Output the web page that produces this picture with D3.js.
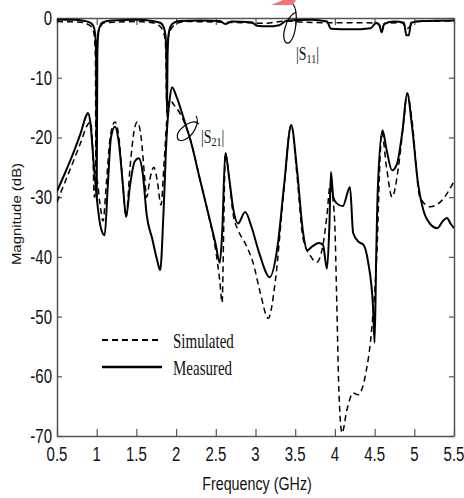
<!DOCTYPE html>
<html>
<head>
<meta charset="utf-8">
<script src="https://cdn.jsdelivr.net/npm/d3@7"></script>
<style>
  body { margin: 0; background: #fff; }
</style>
</head>
<body>
<svg id="chart" width="464" height="498"></svg>
<script>
// values: [frequency GHz, magnitude dB]
var s21Measured = [[0.5,-29.0],[0.6,-26.0],[0.7,-22.8],[0.8,-19.2],[0.87,-16.3],[0.89,-15.9],[0.92,-17.5],[0.96,-24],[1.0,-30],[1.05,-35],[1.1,-36.4],[1.14,-28],[1.18,-20],[1.23,-18.2],[1.28,-21],[1.33,-28],[1.37,-33.3],[1.42,-28],[1.48,-24],[1.53,-23.5],[1.58,-26],[1.63,-33],[1.7,-37],[1.76,-40.5],[1.8,-42.2],[1.84,-33],[1.88,-20],[1.92,-13.5],[1.95,-11.6],[2.0,-13],[2.1,-17],[2.18,-20.4],[2.3,-27],[2.4,-32.5],[2.5,-38],[2.55,-41],[2.58,-36],[2.62,-22.6],[2.67,-27],[2.72,-32],[2.78,-34.4],[2.87,-32.5],[2.95,-35],[3.05,-39.5],[3.18,-43.4],[3.28,-38],[3.36,-28],[3.45,-17.9],[3.52,-25],[3.6,-36],[3.65,-38.9],[3.72,-38.2],[3.8,-37.7],[3.85,-38],[3.9,-42],[3.93,-35],[3.95,-25.8],[3.98,-30],[4.02,-31],[4.1,-31.5],[4.19,-28.3],[4.23,-36],[4.3,-37.5],[4.36,-38],[4.42,-41],[4.48,-48.3],[4.5,-54.4],[4.52,-40],[4.54,-28.8],[4.6,-18.8],[4.65,-22],[4.72,-25.5],[4.78,-24.5],[4.85,-19],[4.91,-12.6],[4.97,-18],[5.05,-28],[5.11,-32],[5.2,-34.5],[5.29,-35.2],[5.36,-34],[5.41,-33.5],[5.46,-34.5],[5.5,-35.2]];

var s21Simulated = [[0.5,-30.8],[0.6,-27.5],[0.7,-24.2],[0.8,-20.8],[0.88,-18],[0.92,-17.4],[0.95,-22],[0.97,-30],[1.0,-27],[1.04,-31],[1.08,-34],[1.12,-28],[1.17,-20],[1.23,-17.4],[1.28,-20],[1.33,-28],[1.37,-33.3],[1.42,-25],[1.47,-19],[1.51,-17.4],[1.56,-20],[1.6,-26],[1.63,-30],[1.67,-27],[1.72,-25],[1.76,-27],[1.81,-31.3],[1.85,-24],[1.89,-16],[1.92,-13.7],[1.97,-14.5],[2.05,-16],[2.18,-20.4],[2.3,-27],[2.4,-32.5],[2.5,-39],[2.55,-44],[2.58,-47.7],[2.6,-35],[2.62,-22.6],[2.67,-27],[2.72,-33],[2.78,-35.5],[2.88,-38],[2.97,-41],[3.06,-46],[3.16,-50.3],[3.25,-44],[3.35,-30],[3.45,-17.9],[3.52,-26],[3.6,-37],[3.7,-40],[3.77,-40.9],[3.85,-38],[3.9,-33],[3.94,-28],[3.98,-31],[4.0,-35],[4.02,-45.5],[4.05,-62.3],[4.09,-69.5],[4.15,-65.7],[4.23,-62.8],[4.29,-63.1],[4.38,-60.1],[4.47,-51.1],[4.53,-38.9],[4.57,-23.2],[4.59,-19.1],[4.65,-25],[4.72,-30],[4.8,-25],[4.87,-17],[4.91,-12.6],[4.97,-17],[5.07,-30],[5.2,-31.6],[5.35,-30.5],[5.49,-27.6]];

var s11Measured = [[0.5,-0.3],[0.7,-0.3],[0.85,-0.5],[0.92,-0.8],[0.96,-1.4],[0.98,-2.6],[0.992,-6],[1.0,-30],[1.008,-6],[1.02,-2.6],[1.04,-1.4],[1.08,-0.7],[1.2,-0.4],[1.5,-0.3],[1.7,-0.5],[1.8,-0.8],[1.84,-1.4],[1.865,-2.8],[1.877,-6],[1.885,-16],[1.893,-6],[1.905,-2.8],[1.93,-1.4],[1.97,-0.8],[2.05,-0.5],[2.3,-0.4],[2.55,-0.5],[2.62,-1.0],[2.7,-0.6],[2.95,-0.7],[3.02,-1.3],[3.15,-1.4],[3.3,-1.2],[3.4,-0.4],[3.7,-0.3],[3.9,-0.6],[3.95,-1.8],[4.2,-1.9],[4.45,-1.7],[4.52,-0.8],[4.56,-1.2],[4.59,-2.4],[4.62,-1.0],[4.75,-0.6],[4.87,-0.8],[4.9,-2.9],[4.93,-2.9],[4.96,-0.8],[5.1,-0.5],[5.5,-0.4]];

var s11Simulated = [[0.5,-0.6],[0.8,-0.7],[0.88,-1.0],[0.94,-1.6],[0.97,-3],[0.984,-7],[0.99,-26],[0.996,-7],[1.01,-3],[1.04,-1.6],[1.1,-0.8],[1.5,-0.6],[1.7,-0.8],[1.78,-1.2],[1.83,-2],[1.86,-3.5],[1.873,-7],[1.88,-14],[1.887,-7],[1.9,-3.5],[1.93,-2],[1.98,-1.2],[2.1,-0.6],[2.6,-0.7],[2.9,-0.8],[3.1,-0.9],[3.4,-0.5],[3.6,-0.7],[4.0,-0.8],[4.4,-0.8],[4.55,-1.0],[4.59,-1.8],[4.63,-0.9],[4.85,-0.8],[4.9,-1.8],[4.94,-1.5],[5.0,-0.6],[5.5,-0.5]];

var xTicks = [0.5, 1, 1.5, 2, 2.5, 3, 3.5, 4, 4.5, 5, 5.5];
var xTickLabels = ['0.5', '1', '1.5', '2', '2.5', '3', '3.5', '4', '4.5', '5', '5.5'];
var yTicks = [0, -10, -20, -30, -40, -50, -60, -70];
var yTickLabels = ['0', '-10', '-20', '-30', '-40', '-50', '-60', '-70'];

var legendItems = [{label: 'Simulated', dash: '6,4'}, {label: 'Measured', dash: null}];

var margin = {left: 57, right: 10, top: 18, bottom: 62};
var W = 464, H = 498;
var svg = d3.select('#chart');

var x = d3.scaleLinear().domain([0.5, 5.5]).range([margin.left, W - margin.right]);
var y = d3.scaleLinear().domain([-70, 0]).range([H - margin.bottom, margin.top]);

var axisColor = '#555';
var sans = 'Liberation Sans, Arial, sans-serif';
var serif = 'Liberation Serif, Times New Roman, serif';

// text in the picture is stretched tall, so squash it with a scale
var stretchText = function (parent, tx, ty, txt, anchor, size, sy, family) {
  return parent.append('g')
      .attr('transform', 'translate(' + tx + ',' + ty + ') scale(1,' + sy + ')')
    .append('text')
      .attr('text-anchor', anchor)
      .attr('font-family', family)
      .attr('font-size', size)
      .attr('fill', '#111')
      .text(txt);
};

svg.append('defs').append('clipPath').attr('id', 'plot-clip')
  .append('rect')
    .attr('x', x(0.5)).attr('y', y(0) - 2)
    .attr('width', x(5.5) - x(0.5)).attr('height', y(-70) - y(0) + 2);

// axes with inward ticks
var styleAxis = function (g) {
  g.selectAll('path').attr('stroke', axisColor).attr('stroke-width', 1.5);
  g.selectAll('line').attr('stroke', axisColor).attr('stroke-width', 1.2);
  g.selectAll('text').remove();
};

svg.append('g').attr('transform', 'translate(0,' + y(-70) + ')')
    .call(d3.axisBottom(x).tickValues(xTicks).tickSizeInner(-7).tickSizeOuter(0).tickFormat(''))
    .call(styleAxis);
svg.append('g').attr('transform', 'translate(0,' + y(0) + ')')
    .call(d3.axisTop(x).tickValues(xTicks).tickSizeInner(-7).tickSizeOuter(0).tickFormat(''))
    .call(styleAxis);
svg.append('g').attr('transform', 'translate(' + x(0.5) + ',0)')
    .call(d3.axisLeft(y).tickValues(yTicks).tickSizeInner(-5).tickSizeOuter(0).tickFormat(''))
    .call(styleAxis);
svg.append('g').attr('transform', 'translate(' + x(5.5) + ',0)')
    .call(d3.axisRight(y).tickValues(yTicks).tickSizeInner(-5).tickSizeOuter(0).tickFormat(''))
    .call(styleAxis);

// tick labels
xTicks.forEach(function (t, i) {
  stretchText(svg, x(t), 461, xTickLabels[i], 'middle', 15, 1.35, sans);
});
yTicks.forEach(function (t, i) {
  stretchText(svg, x(0.5) - 5, y(t) + 7, yTickLabels[i], 'end', 15, 1.35, sans);
});

// axis titles
stretchText(svg, 257, 490, 'Frequency (GHz)', 'middle', 14.3, 1.3, sans);
svg.append('text')
    .attr('transform', 'translate(21,214) rotate(-90) scale(1.15,1)')
    .attr('text-anchor', 'middle')
    .attr('font-family', sans)
    .attr('font-size', 13)
    .attr('fill', '#111')
    .text('Magnitude (dB)');

// curves
var line = d3.line()
    .x(function (d) { return x(d[0]); })
    .y(function (d) { return y(d[1]); })
    .curve(d3.curveMonotoneX);

var curves = svg.append('g').attr('clip-path', 'url(#plot-clip)');
var series = [
  {data: s21Simulated, dash: '6,4', width: 1.5},
  {data: s11Simulated, dash: '6,4', width: 1.5},
  {data: s21Measured, dash: null, width: 2},
  {data: s11Measured, dash: null, width: 2}
];
series.forEach(function (s) {
  curves.append('path')
      .datum(s.data)
      .attr('d', line)
      .attr('fill', 'none')
      .attr('stroke', '#000')
      .attr('stroke-width', s.width)
      .attr('stroke-linejoin', 'round')
      .attr('stroke-dasharray', s.dash);
});

// legend
legendItems.forEach(function (item, i) {
  var ly = 340 + i * 27;
  svg.append('line')
      .attr('x1', 102).attr('x2', 162).attr('y1', ly).attr('y2', ly)
      .attr('stroke', '#000')
      .attr('stroke-width', item.dash ? 2 : 2.6)
      .attr('stroke-dasharray', item.dash);
  stretchText(svg, 173, ly + 8, item.label, 'start', 15, 1.45, serif);
});

// |S21| and |S11| annotations with their loops
var label = function (tx, ty, sub) {
  var t = stretchText(svg, tx, ty, '|S', 'start', 14, 1.35, serif);
  t.append('tspan').attr('font-size', 10).attr('dy', 2).text(sub);
  t.append('tspan').attr('dy', -2).text('|');
};
label(201, 143, '21');
label(296, 60, '11');

svg.append('path')
    .attr('d', 'M196,116 C200,122 194,136 184,140 C176,143 175,134 182,128 C188,122 195,120 199,124')
    .attr('fill', 'none').attr('stroke', '#000').attr('stroke-width', 1.2);
svg.append('path')
    .attr('d', 'M293,4 C299,12 296,36 290,42 C285,46 282,38 285,28 C287,20 290,15 296,12')
    .attr('fill', 'none').attr('stroke', '#000').attr('stroke-width', 1.2);

// stray red mark at the top edge of the picture
svg.append('polygon')
    .attr('points', '271,5 283,0 296,0 293,5')
    .attr('fill', '#f47474');
</script>
</body>
</html>
